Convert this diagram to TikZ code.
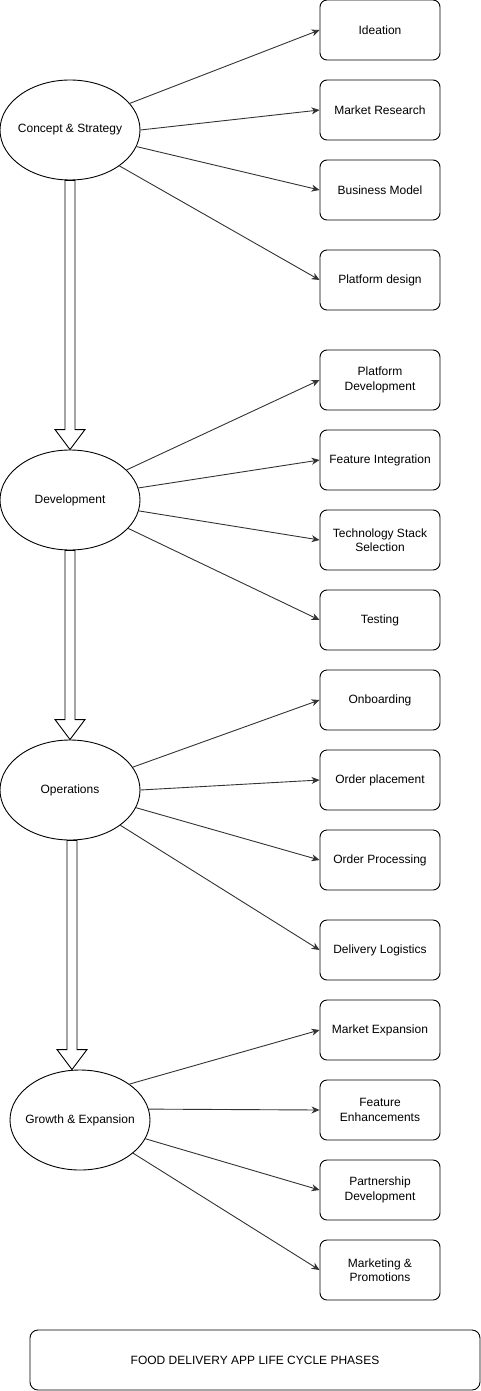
\documentclass[tikz,border=0pt]{standalone}
\usepackage{fontspec}
\setmainfont{Liberation Sans}
\usetikzlibrary{arrows.meta,calc,shapes.geometric}
\begin{document}
\begin{tikzpicture}[x=1pt,y=-1pt,
  every node/.style={font=\fontsize{12pt}{14.5pt}\selectfont, align=center, inner sep=0pt},
  phase/.style={ellipse, draw=black, line width=0.9pt, fill=white, minimum width=140pt, minimum height=100pt},
  task/.style={draw=black, line width=0.9pt, rounded corners=7pt, minimum width=120pt, minimum height=60pt, fill=white},
  link/.style={draw=black!80, line width=0.9pt, -{Stealth[length=8pt,width=7pt,inset=2.5pt]}},
  blockarr/.style={draw=black, line width=0.9pt, fill=white, line join=miter}
]
\useasboundingbox (0,0) rectangle (481,1391);

% phases
\node[phase] (c1) at (70,130) {\makebox[0pt]{Concept \& Strategy}};
\node[phase] (c2) at (70,500) {\makebox[0pt]{Development}};
\node[phase] (c3) at (70,790) {\makebox[0pt]{Operations}};
\node[phase] (c4) at (80,1120) {\makebox[0pt]{Growth \& Expansion}};

% tasks
\node[task] (t1) at (380,30) {Ideation};
\node[task] (t2) at (380,110) {Market Research};
\node[task] (t3) at (380,190) {Business Model};
\node[task] (t4) at (380,280) {Platform design};
\node[task] (t5) at (380,380) {Platform\\Development};
\node[task] (t6) at (380,460) {Feature Integration};
\node[task] (t7) at (380,540) {Technology Stack\\Selection};
\node[task] (t8) at (380,620) {Testing};
\node[task] (t9) at (380,700) {Onboarding};
\node[task] (t10) at (380,780) {Order placement};
\node[task] (t11) at (380,860) {Order Processing};
\node[task] (t12) at (380,950) {Delivery Logistics};
\node[task] (t13) at (380,1030) {Market Expansion};
\node[task] (t14) at (380,1110) {Feature\\Enhancements};
\node[task] (t15) at (380,1190) {Partnership\\Development};
\node[task] (t16) at (380,1270) {Marketing \&\\Promotions};

\node[draw=black, line width=0.9pt, rounded corners=8pt, minimum width=450pt, minimum height=60pt] (title) at (255,1360) {FOOD DELIVERY APP LIFE CYCLE PHASES};

% connectors
\draw[link] (c1.24) -- (t1.west);
\draw[link] (c1.0) -- (t2.west);
\draw[link] (c1.-14) -- (t3.west);
\draw[link] (c1.-36) -- (t4.west);

\draw[link] (c2.28) -- (t5.west);
\draw[link] (c2.10) -- (t6.west);
\draw[link] (c2.-9) -- (t7.west);
\draw[link] (c2.-26) -- (t8.west);

\draw[link] (c3.20) -- (t9.west);
\draw[link] (c3.0) -- (t10.west);
\draw[link] (c3.-15) -- (t11.west);
\draw[link] (c3.-35) -- (t12.west);

\draw[link] (c4.36) -- (t13.west);
\draw[link] (c4.9) -- (t14.west);
\draw[link] (c4.-16) -- (t15.west);
\draw[link] (c4.-32) -- (t16.west);

% block arrows between phases
\draw[blockarr] ($(c1.south)+(-5,0)$) -- ($(c2.north)+(-5,-20)$) -- ($(c2.north)+(-15,-20)$)
  -- (c2.north) -- ($(c2.north)+(15,-20)$) -- ($(c2.north)+(5,-20)$) -- ($(c1.south)+(5,0)$) -- cycle;
\draw[blockarr] ($(c2.south)+(-5,0)$) -- ($(c3.north)+(-5,-20)$) -- ($(c3.north)+(-15,-20)$)
  -- (c3.north) -- ($(c3.north)+(15,-20)$) -- ($(c3.north)+(5,-20)$) -- ($(c2.south)+(5,0)$) -- cycle;
\draw[blockarr] ($(c3.south)+(-3,0)$) -- ($(c4.north)+(-13,-20)$) -- ($(c4.north)+(-23,-20)$)
  -- ($(c4.north)+(-8,0)$) -- ($(c4.north)+(7,-20)$) -- ($(c4.north)+(-3,-20)$) -- ($(c3.south)+(7,0)$) -- cycle;
\end{tikzpicture}
\end{document}
